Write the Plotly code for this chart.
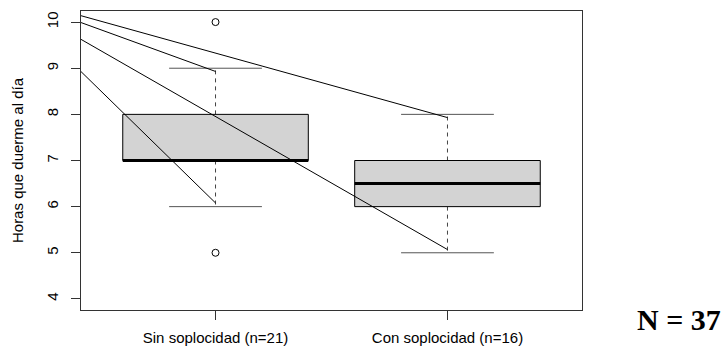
import plotly.graph_objects as go

# ---- data ----
categories = ["Sin soplocidad (n=21)", "Con soplocidad (n=16)"]
q1 = [7, 6]
median = [7, 6.5]
q3 = [8, 7]
whisker_low = [6, 5]
whisker_high = [9, 8]
outlier_group = [1, 1]
outlier_values = [10, 5]

# lines drawn from a common origin (outside the plot) to whisker ends
line_origin = (0.075, 10.62)
line_end_group = [2, 1, 2, 1]
line_end_values = [7.93, 8.93, 5.07, 6.08]

y_ticks = [4, 5, 6, 7, 8, 9, 10]
y_title = "Horas que duerme al día"
n_label = "N = 37"

positions = [i + 1 for i in range(len(categories))]
half_box = 0.4
half_cap = 0.2

fig = go.Figure()

for p, a, m, b, lo, hi in zip(positions, q1, median, q3, whisker_low, whisker_high):
    # whiskers (dashed)
    fig.add_trace(go.Scatter(x=[p, p, None, p, p], y=[b, hi, None, a, lo],
                             mode="lines", line=dict(color="#444", width=1, dash="4px,4px"),
                             hoverinfo="skip", showlegend=False))
    # caps
    fig.add_trace(go.Scatter(x=[p - half_cap, p + half_cap, None, p - half_cap, p + half_cap],
                             y=[hi, hi, None, lo, lo],
                             mode="lines", line=dict(color="#555", width=1),
                             hoverinfo="skip", showlegend=False))
    # box
    fig.add_trace(go.Scatter(x=[p - half_box, p + half_box, p + half_box, p - half_box, p - half_box],
                             y=[a, a, b, b, a], mode="lines", fill="toself",
                             fillcolor="#D3D3D3", line=dict(color="black", width=1),
                             hoverinfo="skip", showlegend=False))
    # median
    fig.add_trace(go.Scatter(x=[p - half_box, p + half_box], y=[m, m], mode="lines",
                             line=dict(color="black", width=3),
                             hoverinfo="skip", showlegend=False))

# outliers
fig.add_trace(go.Scatter(x=outlier_group, y=outlier_values, mode="markers",
                         marker=dict(symbol="circle-open", size=7, color="black",
                                     line=dict(width=1, color="black")),
                         hoverinfo="skip", showlegend=False))

# connecting lines (clipped by plot area), drawn on top
for g, v in zip(line_end_group, line_end_values):
    fig.add_trace(go.Scatter(x=[line_origin[0], g], y=[line_origin[1], v],
                             mode="lines", line=dict(color="black", width=1),
                             hoverinfo="skip", showlegend=False))

fig.add_annotation(text=f"<b>{n_label}</b>", xref="paper", yref="paper",
                   x=1.106, y=-0.033, xanchor="left", yanchor="middle",
                   showarrow=False,
                   font=dict(family="Liberation Serif", size=30, color="black"))

fig.update_layout(
    width=726, height=347,
    margin=dict(l=81, r=144, t=11, b=37),
    plot_bgcolor="white", paper_bgcolor="white",
    font=dict(family="Liberation Sans, Arial", size=15, color="black"),
    xaxis=dict(range=[0.42, 2.58], tickvals=positions, ticktext=categories,
               ticks="outside", ticklen=9, tickcolor="#333", showline=True,
               linecolor="#333", linewidth=1, mirror=True, showgrid=False,
               zeroline=False, ticklabelstandoff=5, automargin=False),
    yaxis=dict(range=[3.76, 10.24], tickvals=y_ticks, ticks="outside", ticklen=9,
               tickcolor="#333", showline=True, linecolor="#333", linewidth=1,
               mirror=True, showgrid=False, zeroline=False, tickangle=-90,
               ticklabelstandoff=7, automargin=False,
               title=dict(text=y_title, standoff=16, font=dict(size=15))),
)

fig.write_html("out.html", config={"displayModeBar": False},
               post_script="document.body.style.margin='0';document.body.style.overflow='hidden';")
